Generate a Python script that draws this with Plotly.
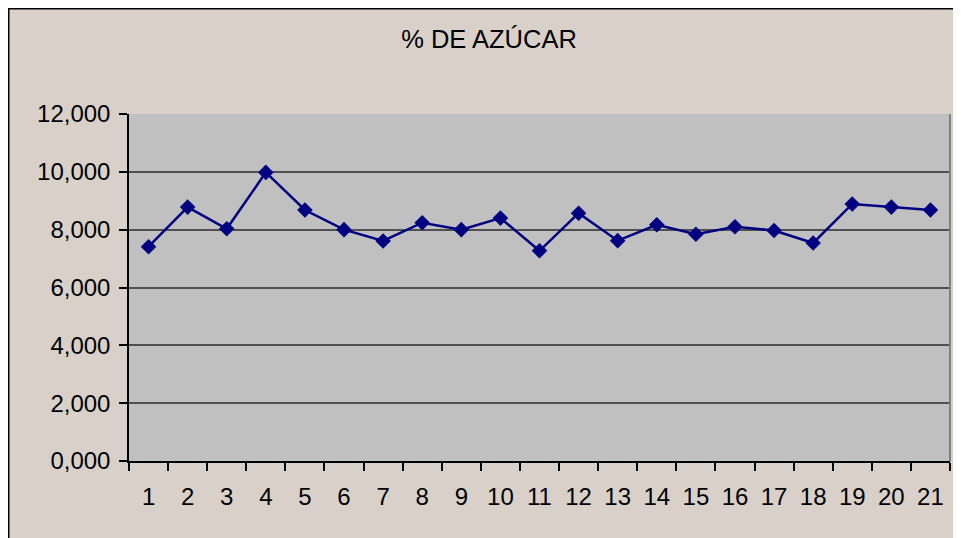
import plotly.graph_objects as go

categories = [str(i) for i in range(1, 22)]
azucar = [7.41, 8.78, 8.03, 9.98, 8.68, 8.00, 7.61, 8.24, 8.00, 8.40, 7.27,
          8.57, 7.62, 8.17, 7.84, 8.10, 7.97, 7.54, 8.89, 8.78, 8.68]
y_ticks = [0, 2, 4, 6, 8, 10, 12]
title_text = "% DE AZÚCAR"

W, H = 961, 538
# plot area in figure coordinates (page is offset by the 8px body margin)
L, R, T, B = 121, 942, 106, 453


def fx(px):
    return (px - L) / (R - L)


def fy(py):
    return (B - py) / (B - T)


fig = go.Figure()
fig.add_trace(go.Scatter(
    x=categories, y=azucar, mode="lines+markers",
    line=dict(color="#000080", width=2.5),
    marker=dict(symbol="diamond", size=12, color="#000080"),
    showlegend=False, hoverinfo="x+y",
))

font = "Liberation Sans, Arial, sans-serif"
fig.update_layout(
    width=W, height=H,
    margin=dict(l=L, r=W - R, t=T, b=H - B, pad=0),
    paper_bgcolor="#d9d0c9",
    plot_bgcolor="#c0c0c0",
    separators=",.",
    font=dict(family=font, size=24, color="#000000"),
    title=dict(text=title_text, x=481 / W, xanchor="center", xref="container",
               y=1 - 31 / H, yanchor="middle", yref="container",
               font=dict(family=font, size=25.5, color="#000000")),
    xaxis=dict(type="category", range=[-0.5, 20.5], showgrid=False,
               showline=True, linecolor="#000000", linewidth=1.5,
               ticks="outside", ticklen=8, tickcolor="#000000", tickwidth=1.5,
               tickson="boundaries", ticklabelstandoff=13,
               tickfont=dict(family=font, size=24, color="#000000")),
    yaxis=dict(range=[0, 12], tickvals=y_ticks, tickformat=".3f",
               showgrid=True, gridcolor="#505050", gridwidth=1.5,
               zeroline=False,
               showline=True, linecolor="#000000", linewidth=1.5,
               ticks="outside", ticklen=8, tickcolor="#000000", tickwidth=1.5,
               ticklabelstandoff=4,
               tickfont=dict(family=font, size=24, color="#000000")),
    shapes=[
        # black frame lines at the chart's top and left edges
        dict(type="line", xref="paper", yref="paper", x0=fx(0), x1=fx(W + 5),
             y0=fy(0.5), y1=fy(0.5), line=dict(color="#000000", width=2)),
        dict(type="line", xref="paper", yref="paper", x0=fx(0.5), x1=fx(0.5),
             y0=fy(0), y1=fy(H + 5), line=dict(color="#000000", width=2)),
        # plot-area right border
        dict(type="line", xref="paper", yref="paper", x0=1, x1=1,
             y0=0, y1=1, line=dict(color="#808080", width=2)),
    ],
)

fig.write_html("out.html")
